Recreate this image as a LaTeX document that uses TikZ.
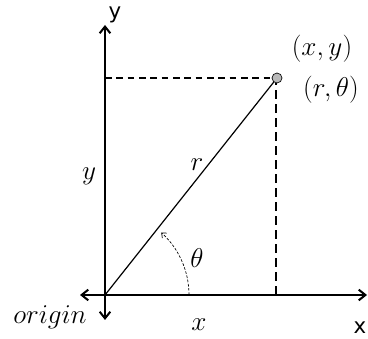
\documentclass[tikz,border=0pt]{standalone}
\usepackage{fontspec}
\usepackage{amsmath}
\newfontfamily\axisfont{DejaVu Sans}
\usetikzlibrary{arrows.meta}
\begin{document}
\begin{tikzpicture}[x=0.75pt,y=0.75pt,every node/.style={font=\fontsize{17}{20}\selectfont},
  mathlabel/.style={scale=1.18},
  axis/.style={line width=1.5pt,{Straight Barb[length=5pt,width=8pt]}-{Straight Barb[length=5pt,width=8pt]}},
  axislabel/.style={font=\fontsize{16}{18}\selectfont\axisfont,inner sep=1pt},
  guide/.style={line width=1.4pt,dash pattern=on 5pt off 3.5pt},
  anglearc/.style={line width=0.5pt,dash pattern=on 2pt off 1.2pt,-{Straight Barb[length=3pt,width=5pt]}}]
\useasboundingbox (0,0) rectangle (368,339);
% axes
\coordinate (origin) at (105,44);
\coordinate (ytop) at (105,314);
\coordinate (ybot) at (105,19);
\coordinate (xleft) at (80,44);
\coordinate (xright) at (367,44);
\draw[axis] (ybot) -- (ytop);
\draw[axis] (xleft) -- (xright);
\node[axislabel] (ylab) at (115,324) {y};
\node[axislabel] (xlab) at (360,11) {x};
% point and projections
\coordinate (py) at (105,261);
\coordinate (px) at (276,44);
\draw[guide,line width=1.2pt] (py) -- (277,261);
\draw[guide,line width=1.7pt,dash pattern=on 7pt off 3.5pt] (px) -- (276,256);
\draw[line width=0.9pt] (origin) -- (277,261);
\node[circle,draw,fill=gray!55,inner sep=0pt,minimum size=7.5pt,line width=0.5pt] (pt) at (277,261) {};
% labels
\node[mathlabel] (xy) at (322,290) {$(x,y)$};
\node[mathlabel] (rtheta) at (331,249) {$(r,\theta)$};
\node[mathlabel] (rlab) at (197,174) {$r$};
\node[mathlabel] (ylen) at (89,163) {$y$};
\node[mathlabel] (xlen) at (199,14) {$x$};
\node[mathlabel] (thlab) at (197,81) {$\theta$};
\node[mathlabel] (orig) at (50,22) {$origin$};
% angle
\draw[anglearc] (189,44) arc[start angle=0,end angle=48,radius=84];
\end{tikzpicture}
\end{document}
